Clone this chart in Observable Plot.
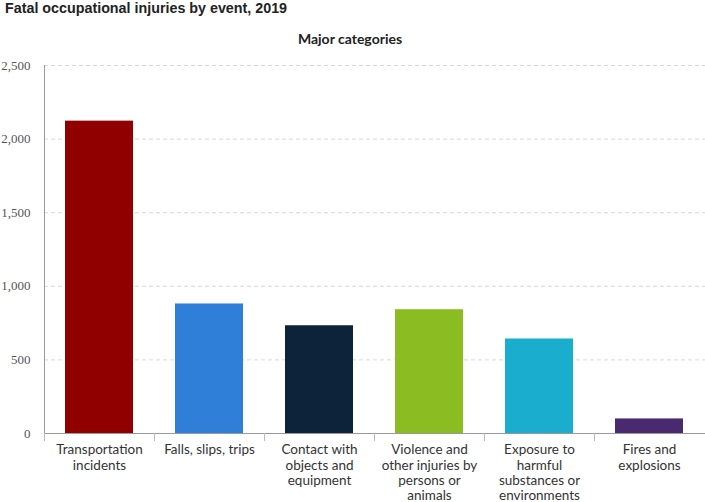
<!DOCTYPE html>
<html>
<head>
<meta charset="utf-8">
<script src="https://cdn.jsdelivr.net/npm/d3@7"></script>
<script src="https://cdn.jsdelivr.net/npm/@observablehq/plot@0.6"></script>
<style>
  html, body { margin: 0; padding: 0; background: #fff; }
  #wrap { position: relative; width: 705px; height: 502px; overflow: hidden; }
  #title { position: absolute; left: 5px; top: 0px; font: bold 14.3px "Liberation Sans", Arial, sans-serif; color: #222; }
  #subtitle { position: absolute; left: 0; width: 700px; top: 30px; text-align: center; font: bold 14px Lato, "Open Sans", sans-serif; color: #222; }
  #chart { position: absolute; left: 0; top: 0; }
</style>
</head>
<body>
<div id="wrap">
  <div id="chart"></div>
  <div id="title">Fatal occupational injuries by event, 2019</div>
  <div id="subtitle">Major categories</div>
</div>
<script>
const categories = [
  "Transportation incidents",
  "Falls, slips, trips",
  "Contact with objects and equipment",
  "Violence and other injuries by persons or animals",
  "Exposure to harmful substances or environments",
  "Fires and explosions"
];
const tickLabels = [
  "Transportation\nincidents",
  "Falls, slips, trips",
  "Contact with\nobjects and\nequipment",
  "Violence and\nother injuries by\npersons or\nanimals",
  "Exposure to\nharmful\nsubstances or\nenvironments",
  "Fires and\nexplosions"
];
const values = [2122, 880, 732, 841, 642, 99];
const colors = ["#910000", "#2f7ed8", "#0d233a", "#8bbc21", "#1aadce", "#492970"];
const yTicks = [0, 500, 1000, 1500, 2000, 2500];

const data = categories.map((c, i) => ({category: c, value: values[i]}));
const labelMap = new Map(categories.map((c, i) => [c, tickLabels[i]]));

const chart = Plot.plot({
  width: 705,
  height: 502,
  marginTop: 65,
  marginBottom: 69,
  marginLeft: 44,
  marginRight: 0,
  style: {background: "transparent", overflow: "visible"},
  x: {domain: categories, range: [44, 705], paddingInner: 0.38, paddingOuter: 0.19, label: null},
  y: {domain: [0, 2500], range: [433, 65], label: null},
  color: {domain: categories, range: colors},
  marks: [
    Plot.gridY(yTicks.filter(d => d > 0), {stroke: "#d8d8d8", strokeOpacity: 1, strokeDasharray: "4,3"}),
    Plot.barY(data, {x: "category", y: "value", fill: "category"}),
    Plot.axisY(yTicks, {
      tickSize: 0, tickPadding: 14,
      tickFormat: d => d3.format(",")(d),
      fontFamily: "Liberation Serif, serif", fontSize: 13, fill: "#555"
    }),
    Plot.axisX({
      tickSize: 0, tickPadding: 10,
      tickFormat: d => labelMap.get(d),
      fontFamily: "Lato, 'Open Sans', sans-serif", fontSize: 13.5, fill: "#333",
      lineHeight: 1.13
    })
  ]
});
document.getElementById("chart").appendChild(chart);

// axis lines and category separators via scales
const svg = d3.select(chart);
const xs = chart.scale("x"), ys = chart.scale("y");
const bw = xs.step;
const x0 = xs.range[0];
const yBase = ys.apply(0), yTop = ys.apply(2500);
svg.append("line").attr("x1", x0 + 0.5).attr("x2", x0 + 0.5).attr("y1", yTop).attr("y2", yBase)
  .attr("stroke", "#999").attr("stroke-width", 1);
svg.append("line").attr("x1", x0).attr("x2", xs.range[1]).attr("y1", yBase + 0.5).attr("y2", yBase + 0.5)
  .attr("stroke", "#999").attr("stroke-width", 1);
categories.forEach((c, i) => {
  const xx = Math.round(x0 + i * bw) + 0.5;
  svg.append("line").attr("x1", xx).attr("x2", xx).attr("y1", yBase).attr("y2", yBase + 8)
    .attr("stroke", "#bbb").attr("stroke-width", 1);
});
</script>
</body>
</html>
